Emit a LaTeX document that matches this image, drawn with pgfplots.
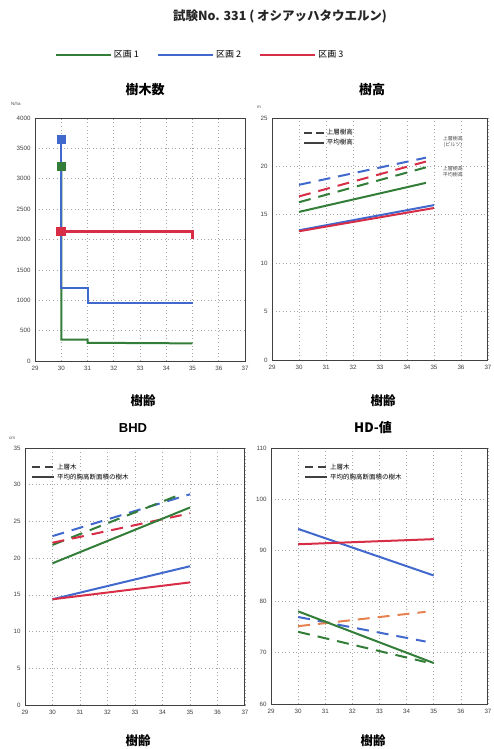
\documentclass[border=0pt]{standalone}
\usepackage{pgfplots}
\pgfplotsset{compat=1.18}
\usepackage{fontspec}
\setmainfont{Liberation Sans}
\newfontfamily\jp{Noto Sans CJK JP}
\definecolor{cg}{RGB}{50,125,55}
\definecolor{cb}{RGB}{65,105,205}
\definecolor{cr}{RGB}{215,45,70}
\definecolor{co}{RGB}{230,130,80}
\pgfplotsset{
 base/.style={scale only axis, anchor=south west, xmin=29, xmax=37, xtick={29,...,37},
  grid=major, major grid style={gray!70, dash pattern=on 1pt off 2.6pt, line width=0.7pt},
  axis line style={black!75, line width=1pt}, tick style={draw=none},
  ticklabel style={font=\fontsize{6.2}{7}\selectfont, text=black!75},
  /pgf/number format/assume math mode=true, /pgf/number format/set thousands separator={},
  xticklabel style={yshift=-2pt}, yticklabel style={xshift=-1pt},
  legend cell align=left},
 dsh/.style={dash pattern=on 12pt off 8pt},
 lw/.style={line width=2pt},
}
\begin{document}
\begin{tikzpicture}
\useasboundingbox (0,0) rectangle (493pt,-749pt);
% titles
\node[font=\jp\bfseries\fontsize{12.5}{14}\selectfont, text=black!85] at (280pt,-16pt) {試験No. 331 ( オシアッハタウエルン)};
\node[font=\jp\bfseries\fontsize{13}{14}\selectfont] at (145pt,-90pt) {樹木数};
\node[font=\jp\bfseries\fontsize{13}{14}\selectfont] at (372pt,-90pt) {樹高};
\node[font=\bfseries\fontsize{13}{14}\selectfont] at (133pt,-428pt) {BHD};
\node[font=\jp\bfseries\fontsize{13}{14}\selectfont] at (373pt,-428pt) {HD-値};
\node[font=\jp\bfseries\fontsize{12.5}{14}\selectfont] at (143pt,-401pt) {樹齢};
\node[font=\jp\bfseries\fontsize{12.5}{14}\selectfont] at (383pt,-401pt) {樹齢};
\node[font=\jp\bfseries\fontsize{12.5}{14}\selectfont] at (138pt,-741pt) {樹齢};
\node[font=\jp\bfseries\fontsize{12.5}{14}\selectfont] at (373pt,-741pt) {樹齢};
\node[font=\fontsize{4.5}{5}\selectfont, text=black!70] at (16pt,-104pt) {N/ha};
\node[font=\fontsize{4.5}{5}\selectfont, text=black!70] at (259pt,-107pt) {m};
\node[font=\fontsize{4.5}{5}\selectfont, text=black!70] at (12pt,-438pt) {cm};

% ---------- 樹木数 ----------
\begin{axis}[base, at={(35pt,-361pt)}, width=210pt, height=243pt,
  ymin=0, ymax=4000, ytick={0,500,...,4000},
  legend style={at={(0.786,1.26)}, anchor=center, draw=none, fill=none, legend columns=3,
    font=\jp\fontsize{9}{10}\selectfont,
    /tikz/every even column/.append style={column sep=16pt}},
  legend image code/.code={\draw[#1, line width=2.2pt] (0pt,0pt) -- (55pt,0pt);}]
\addlegendimage{cg}\addlegendentry{区画 1}
\addlegendimage{cb}\addlegendentry{区画 2}
\addlegendimage{cr}\addlegendentry{区画 3}
\addplot[cg, lw, forget plot, mark=square*, mark size=3.6pt, mark indices={1}] coordinates {(30,3200) (30,350) (31,350) (31,300) (35,290)};
\addplot[cb, lw, forget plot, mark=square*, mark size=3.6pt, mark indices={1}] coordinates {(30,3650) (30,1200) (31,1200) (31,950) (35,950)};
\addplot[cr, line width=2.4pt, forget plot, mark=square*, mark size=3.6pt, mark indices={1}] coordinates {(30,2130) (35,2130) (35,2010)};
\end{axis}

% ---------- 樹高 ----------
\begin{axis}[base, at={(272pt,-360pt)}, width=216pt, height=242pt,
  ymin=0, ymax=25, ytick={0,5,...,25},
  legend style={at={(0.13,0.97)}, anchor=north west, draw=none, fill=none,
    font=\jp\fontsize{6.5}{7.5}\selectfont, row sep=-1pt},
  legend image code/.code={\draw[#1] (0pt,0pt) -- (20pt,0pt);}]
\addlegendimage{black!75, line width=1.5pt, dash pattern=on 8pt off 4pt}\addlegendentry{上層樹高}
\addlegendimage{black!75, line width=1.5pt}\addlegendentry{平均樹高}
\addplot[cb, lw, dsh, forget plot] coordinates {(30,18.1) (34.7,20.9)};
\addplot[cr, lw, dsh, forget plot] coordinates {(30,16.9) (34.7,20.5)};
\addplot[cg, lw, dsh, forget plot] coordinates {(30,16.3) (34.7,19.9)};
\addplot[cg, lw, forget plot] coordinates {(30,15.3) (34.7,18.3)};
\addplot[cb, lw, forget plot] coordinates {(30,13.4) (35,16.0)};
\addplot[cr, lw, forget plot] coordinates {(30,13.3) (35,15.7)};
\node[font=\jp\fontsize{5}{6}\selectfont, text=black!70, align=center] at (axis cs:35.7,22.5) {上層樹高\\(ピルツ)};
\node[font=\jp\fontsize{5}{6}\selectfont, text=black!70, align=center] at (axis cs:35.7,19.5) {上層樹高\\平均樹高};
\end{axis}

% ---------- BHD ----------
\begin{axis}[base, at={(25pt,-705pt)}, width=220pt, height=257pt,
  ymin=0, ymax=35, ytick={0,5,...,35},
  legend style={at={(0.015,0.955)}, anchor=north west, draw=none, fill=none,
    font=\jp\fontsize{6.5}{7.5}\selectfont, row sep=-1pt},
  legend image code/.code={\draw[#1] (0pt,0pt) -- (22pt,0pt);}]
\addlegendimage{black!75, line width=1.5pt, dash pattern=on 8pt off 5pt}\addlegendentry{上層木}
\addlegendimage{black!75, line width=1.5pt}\addlegendentry{平均的胸高断面積の樹木}
\addplot[cb, lw, dsh, forget plot] coordinates {(30,23.0) (35,28.7)};
\addplot[cg, lw, dsh, forget plot] coordinates {(30,21.8) (34.6,28.6)};
\addplot[cr, lw, dsh, forget plot] coordinates {(30,22.1) (35,26.1)};
\addplot[cg, lw, forget plot] coordinates {(30,19.3) (35,26.9)};
\addplot[cb, lw, forget plot] coordinates {(30,14.4) (35,18.9)};
\addplot[cr, lw, forget plot] coordinates {(30,14.4) (35,16.7)};
\end{axis}

% ---------- HD ----------
\begin{axis}[base, at={(271pt,-704pt)}, width=217pt, height=256pt,
  ymin=60, ymax=110, ytick={60,70,...,110},
  legend style={at={(0.14,0.955)}, anchor=north west, draw=none, fill=none,
    font=\jp\fontsize{6.5}{7.5}\selectfont, row sep=-1pt},
  legend image code/.code={\draw[#1] (0pt,0pt) -- (22pt,0pt);}]
\addlegendimage{black!75, line width=1.5pt, dash pattern=on 8pt off 5pt}\addlegendentry{上層木}
\addlegendimage{black!75, line width=1.5pt}\addlegendentry{平均的胸高断面積の樹木}
\addplot[cb, lw, forget plot] coordinates {(30,94.2) (35,85.1)};
\addplot[cr, lw, forget plot] coordinates {(30,91.2) (35,92.2)};
\addplot[cb, lw, dsh, forget plot] coordinates {(30,77.0) (34.7,72.2)};
\addplot[co, lw, dsh, forget plot] coordinates {(30,75.2) (34.7,78.0)};
\addplot[cg, lw, dsh, forget plot] coordinates {(30,74.1) (34.7,68.2)};
\addplot[cg, lw, forget plot] coordinates {(30,78.1) (35,68.0)};
\end{axis}
\end{tikzpicture}
\end{document}
